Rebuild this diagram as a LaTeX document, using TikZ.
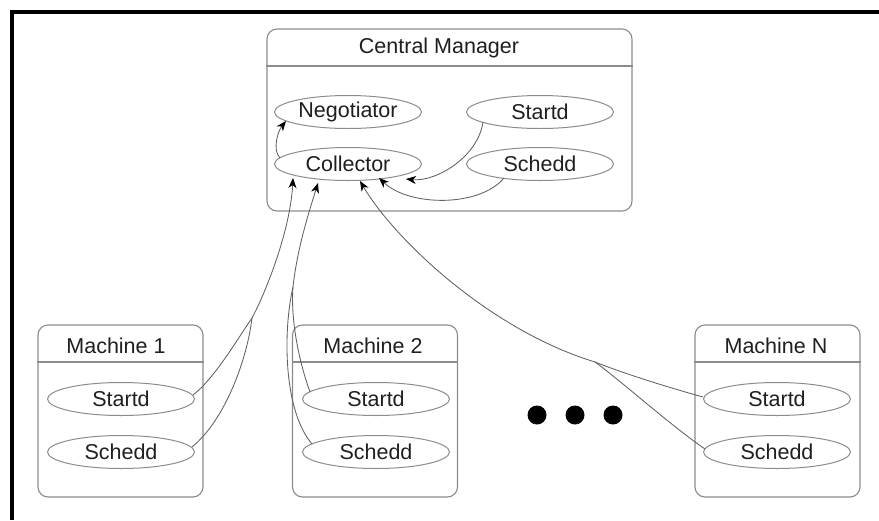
\documentclass[tikz,border=0pt]{standalone}
\usepackage{fontspec}
\setmainfont{Liberation Sans}
\usetikzlibrary{arrows.meta,calc,shapes.geometric}
\definecolor{linegray}{gray}{0.38}
\definecolor{boxgray}{gray}{0.55}
\definecolor{txt}{gray}{0.12}
\begin{document}
\begin{tikzpicture}[x=1pt,y=-1pt,
  every node/.style={font=\fontsize{21.5}{25}\selectfont, text=txt},
  box/.style={draw=boxgray, line width=1.1pt, rounded corners=10pt, inner sep=0pt},
  cmbox/.style={box, minimum width=365pt, minimum height=182pt},
  mbox/.style={box, minimum width=165pt, minimum height=172pt},
  divider/.style={draw=boxgray, line width=1.1pt},
  proc/.style={ellipse, draw=boxgray, line width=1pt, minimum width=147pt, minimum height=33pt, inner sep=0pt},
  conn/.style={draw=linegray, line width=0.85pt},
  arr/.style={conn, -{Stealth[length=10pt,width=8pt,inset=3pt,color=black]}},
  bigdot/.style={circle, fill=black, minimum size=19pt, inner sep=0pt}
]
\useasboundingbox (0,0) rectangle (879,520);
\fill[white] (0,0) rectangle (879,520);
% outer frame (top and left edges)
\draw[line width=4pt, black] (879,11.5) -- (11.5,11.5) -- (11.5,520);

% Central Manager
\node[cmbox] (cm) at (449.5,120) {};
\node (cmt) at (439,48) {Central Manager};
\draw[divider] (cm.west |- 0,66) -- (cm.east |- 0,66);
\node[proc] (neg) at (348,112) {Negotiator};
\node[proc] (cst) at (540,112) {Startd};
\node[proc] (col) at (348,164) {Collector};
\node[proc] (csc) at (540,164) {Schedd};

% Machines
\node[mbox] (m1) at (120.5,411) {};
\node (m1t) at (116,346) {Machine 1};
\draw[divider] (m1.west |- 0,362) -- (m1.east |- 0,362);
\node[proc] (m1s) at (121,399) {Startd};
\node[proc] (m1d) at (121,452) {Schedd};

\node[mbox] (m2) at (375,411) {};
\node (m2t) at (373,346) {Machine 2};
\draw[divider] (m2.west |- 0,362) -- (m2.east |- 0,362);
\node[proc] (m2s) at (376,399) {Startd};
\node[proc] (m2d) at (376,452) {Schedd};

\node[mbox] (mn) at (777.5,411) {};
\node (mnt) at (776,346) {Machine N};
\draw[divider] (mn.west |- 0,362) -- (mn.east |- 0,362);
\node[proc] (mns) at (777,399) {Startd};
\node[proc] (mnd) at (777,452) {Schedd};

% dots
\node[bigdot] (dot1) at (537,415) {};
\node[bigdot] (dot2) at (575,415) {};
\node[bigdot] (dot3) at (613,415) {};

% connectors inside Central Manager
\draw[arr] ($(col.center)+(-68,-6)$) .. controls +(-8,-8) and +(-8,10) .. ($(neg.center)+(-62,9)$);
\draw[arr] ($(cst.center)+(-57,10)$) .. controls +(-5,35) and +(30,3) .. ($(col.center)+(58,15)$);
\draw[arr] ($(csc.center)+(-36,14)$) .. controls (480,207) and (410,207) .. ($(col.center)+(31,14)$);

% merge points
\coordinate (m1m) at (252,318);
\coordinate (m2m) at (293,287);
\coordinate (mnm) at (595,362);

% Machine 1
\draw[conn] ($(m1s.center)+(72,-4)$) .. controls (215,378) and (238,338) .. (m1m);
\draw[conn] ($(m1d.center)+(71,-5)$) .. controls (225,420) and (247,360) .. (m1m);
\draw[arr] (m1m) .. controls (262,300) and (290,235) .. ($(col.center)+(-55,14)$);

% Machine 2
\draw[conn] ($(m2s.center)+(-66,-7)$) .. controls (295,350) and (291,310) .. (m2m);
\draw[conn] ($(m2d.center)+(-64,-8)$) .. controls (283,410) and (283,330) .. (m2m);
\draw[arr] (m2m) .. controls (297,250) and (308,215) .. ($(col.center)+(-30,19)$);

% Machine N
\draw[conn] ($(mns.center)+(-74,-2)$) .. controls (660,385) and (620,372) .. (mnm);
\draw[conn] ($(mnd.center)+(-72,-3)$) .. controls (670,425) and (620,380) .. (mnm);
\draw[arr] (mnm) .. controls (490,330) and (395,240) .. ($(col.center)+(12,17)$);
\end{tikzpicture}
\end{document}
